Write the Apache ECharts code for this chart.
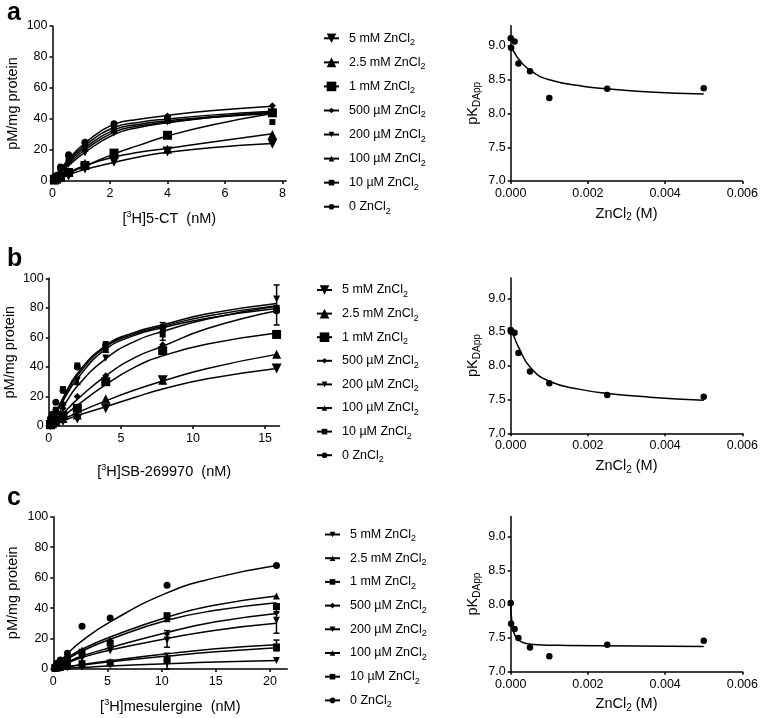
<!DOCTYPE html>
<html><head><meta charset="utf-8">
<script src="https://cdn.jsdelivr.net/npm/echarts@6/dist/echarts.min.js"></script>
<style>html,body{margin:0;padding:0;background:#fff}#c{width:761px;height:718px}</style>
</head><body><div id="c"></div>
<script>
// ---------------- DATA ----------------
const conditions = ['5 mM ZnCl2','2.5 mM ZnCl2','1 mM ZnCl2','500 µM ZnCl2','200 µM ZnCl2','100 µM ZnCl2','10 µM ZnCl2','0 ZnCl2'];

// panel a : [3H]5-CT saturation
const aConc = [0.07, 0.14, 0.28, 0.56, 1.13, 2.14, 4.0, 7.65];
const aBound = [
  [0.8, 1.5, 2.8, 3.5, 8, 12.5, 19, 24],
  [0.9, 1.6, 3, 6, 11.5, 17.5, 20.5, 30],
  [0.6, 1.2, 2.2, 5.5, 10, 18, 29.5, 44],
  [1.5, 3, 8, 16, 25, 36, 42, 48.5],
  [1.2, 2.5, 6, 11, 18, 31, 38, 44],
  [1.4, 3, 7, 13, 21, 33, 39, 45],
  [1.6, 3.2, 8, 14.5, 23, 35, 40, 38],
  [1.8, 3.5, 9, 17, 25, 37, 41, 44.5]
];
const aFitConc = [0, 0.28, 0.56, 1.13, 2.14, 3, 4, 5.5, 7.65];
const aFit = [
  [0, 2, 4, 7.5, 12, 15.5, 18.5, 21.5, 24.2],
  [0, 2.8, 5.5, 10, 15.5, 18.5, 21, 25, 30.5],
  [0, 2.5, 5, 9.5, 17.5, 23, 29, 36, 43.5],
  [0, 7.5, 14, 24.5, 36.5, 39.8, 42.3, 45.3, 48.3],
  [0, 5, 10, 18.5, 30, 34.5, 37.5, 41, 44.5],
  [0, 5.8, 11.2, 20, 31.5, 35.5, 38, 41, 43.5],
  [0, 6.4, 12.3, 21.5, 33, 36.5, 38.8, 41.5, 44],
  [0, 7, 13.3, 23, 34.5, 37.8, 40, 42.5, 45]
];

// panel b : [3H]SB-269970 saturation
const bConc = [0.12, 0.25, 0.49, 0.99, 1.98, 3.95, 7.9, 15.8];
const bBound = [
  [0.5, 1, 2, 3.5, 5, 12, 31, 39],
  [0.8, 1.5, 3, 5, 7.5, 18.5, 31, 48.5],
  [1, 2, 4, 7, 12, 30, 51, 62],
  [2, 3.5, 6, 12, 20, 34, 55, 80],
  [3, 5, 9, 13, 31, 46, 64, 86],
  [3.5, 6, 10, 16, 30, 52, 66, 79],
  [4, 7, 11, 25, 41, 53, 62, 80],
  [5, 8, 16, 24, 40, 55, 67, 78]
];
const bFitConc = [0, 0.49, 0.99, 1.98, 3.95, 6, 7.9, 11, 15.8];
const bFit = [
  [0, 1.5, 3.5, 7, 13, 19.5, 25, 32, 39],
  [0, 2, 4.5, 9, 17, 24.5, 30.5, 39, 48.5],
  [0, 3, 6.5, 14, 28, 40, 47.5, 55.5, 63],
  [0, 4, 8.5, 18, 34, 46.5, 54, 66, 78],
  [0, 6, 13, 27, 45.5, 57.5, 64, 72.5, 81],
  [0, 8, 17, 32, 52, 61.5, 66.5, 73, 79.5],
  [0, 8.5, 18, 34, 53.5, 62.5, 67.5, 74.5, 81.5],
  [0, 9, 19, 35.5, 54.5, 63.5, 68.5, 76, 83]
];
const bErrors = [[15.8, 68.4, 95.5], [7.9, 58, 70], [3.95, 50, 57]];

// panel c : [3H]mesulergine saturation
const cConc = [0.16, 0.33, 0.65, 1.3, 2.65, 5.25, 10.5, 20.6];
const cBound = [
  [0.2, 0.3, 0.5, 0.8, 1.5, 2.5, 3.5, 5.5],
  [0.3, 0.6, 1, 1.8, 3, 5, 8, 14],
  [0.5, 0.8, 1.2, 2, 3.5, 4, 6, 14.5],
  [0.8, 1.5, 2.5, 5, 8, 14, 23, 37],
  [0.6, 1.2, 2, 4, 7, 12, 19, 32],
  [1, 2, 3.5, 7, 12.5, 19, 33, 48],
  [1, 1.8, 3, 6, 11, 17, 35, 41],
  [1.5, 3.7, 5.9, 10.3, 28, 33.5, 55, 68]
];
const cFitConc = [0, 0.65, 1.3, 2.65, 5.25, 10.5, 15, 20.6];
const cFit = [
  [0, 0.3, 0.6, 1, 2, 3.5, 4.6, 5.5],
  [0, 0.7, 1.4, 2.6, 4.8, 8.5, 11.3, 14],
  [0, 0.8, 1.6, 3, 5.5, 10, 13.3, 16],
  [0, 2.3, 4.5, 8.5, 14, 24, 31, 36.5],
  [0, 2, 4, 7.5, 12.5, 20, 25.5, 30],
  [0, 3.8, 7.3, 13, 21, 34, 42, 48],
  [0, 3.3, 6.4, 11.8, 19.5, 32, 38.5, 43.5],
  [0, 5, 10, 18.5, 31, 50, 60, 68]
];
const cErrors = [[20.6, 23.5, 37.7], [20.6, 12, 19], [10.5, 14.3, 25.2], [10.5, 0, 10.3]];

// right panels : pKDApp vs ZnCl2 (M)
const zincConc = [0, 0.00001, 0.0001, 0.0002, 0.0005, 0.001, 0.0025, 0.005];
const aPK = [9.115, 8.975, 9.065, 8.74, 8.625, 8.23, 8.365, 8.375];
const bPK = [8.53, 8.505, 8.49, 8.19, 7.915, 7.74, 7.565, 7.54];
const cPK = [8.02, 7.71, 7.635, 7.5, 7.36, 7.23, 7.4, 7.46];
const aPKFitConc = [0, 0.0001, 0.0002, 0.0005, 0.001, 0.0019, 0.0025, 0.0036, 0.005];
const aPKFit = [8.99, 8.9, 8.81, 8.64, 8.5, 8.4, 8.365, 8.32, 8.29];
const bPKFitConc = [0, 0.0001, 0.0002, 0.0005, 0.001, 0.0018, 0.0025, 0.0036, 0.005];
const bPKFit = [8.55, 8.41, 8.28, 7.98, 7.77, 7.65, 7.59, 7.535, 7.49];
const cPKFitConc = [0, 0.000026, 0.00007, 0.00016, 0.00033, 0.0006, 0.00145, 0.005];
const cPKFit = [8.0, 7.77, 7.6, 7.5, 7.43, 7.405, 7.39, 7.375];

// tick labels
const aXTicks = [0, 2, 4, 6, 8];
const bXTicks = [0, 5, 10, 15];
const cXTicks = [0, 5, 10, 15, 20];
const pkTicks = [7.0, 7.5, 8.0, 8.5, 9.0];

// ---------------- STYLE / LAYOUT ----------------
const FONT = 'Liberation Sans, Arial, Helvetica, sans-serif';
const symbols = ['triangle','triangle','rect','diamond','triangle','triangle','rect','circle'];
const rotations = [180, 0, 0, 0, 180, 0, 0, 0];
const sizesAB = [10, 9, 9, 7, 7, 7, 6, 7];
const sizesC = [7, 7, 7, 6, 7, 7, 7, 7];

const panels = [
  { letter:'a', conc:aConc, bound:aBound, fitConc:aFitConc, fit:aFit, err:null, xTicks:aXTicks, xMax:8.13,
    xName:'[{sup|3}H]5-CT  (nM)', sizes:sizesAB, legendBig:true,
    pk:aPK, pkFitConc:aPKFitConc, pkFit:aPKFit,
    L:{left:52.5, top:26, width:233.7, height:155, xGap:29, yGap:30.5},
    R:{top:25.75}, letterTop:-4,
    leg:{left:323, top0:38.3, step:24.06} },
  { letter:'b', conc:bConc, bound:bBound, fitConc:bFitConc, fit:bFit, err:bErrors, xTicks:bXTicks, xMax:16,
    xName:'[{sup|3}H]SB-269970  (nM)', sizes:sizesAB, legendBig:true,
    pk:bPK, pkFitConc:bPKFitConc, pkFit:bPKFit,
    L:{left:48.3, top:278.3, width:231.2, height:147.7, xGap:37, yGap:26.3},
    R:{top:278}, letterTop:242,
    leg:{left:316, top0:290, step:23.6} },
  { letter:'c', conc:cConc, bound:cBound, fitConc:cFitConc, fit:cFit, err:cErrors, xTicks:cXTicks, xMax:21.6,
    xName:'[{sup|3}H]mesulergine  (nM)', sizes:sizesC, legendBig:false,
    pk:cPK, pkFitConc:cPKFitConc, pkFit:cPKFit,
    L:{left:53.3, top:516.7, width:234, height:152.3, xGap:28.7, yGap:31},
    R:{top:516.5}, letterTop:481,
    leg:{left:324, top0:534.5, step:23.7} }
];

const axisLineStyle = {color:'#000', width:1.5};
const labelStyle = {color:'#000', fontSize:12.5, fontFamily:FONT};
const richName = {
  sup:{fontSize:9, verticalAlign:'top', lineHeight:18, fontFamily:FONT, color:'#000'},
  s:{fontSize:10, verticalAlign:'bottom', lineHeight:18, fontFamily:FONT, color:'#000'}
};
const nameStyle = {color:'#000', fontSize:14.5, fontFamily:FONT, lineHeight:18, rich:richName};

const grid = [], xAxis = [], yAxis = [], series = [], legend = [], title = [];

panels.forEach((p, k) => {
  const gL = 2*k, gR = 2*k+1;
  grid.push({left:p.L.left, top:p.L.top, width:p.L.width, height:p.L.height});
  grid.push({left:510.7, top:p.R.top, width:232.6, height:155.25});
  title.push({text:p.letter, left:2, top:p.letterTop, textStyle:{fontSize:25, fontWeight:'bold', color:'#000', fontFamily:FONT}});

  xAxis.push({gridIndex:gL, type:'value', min:0, max:p.xMax,
    axisLine:{lineStyle:axisLineStyle, onZero:false},
    axisTick:{customValues:p.xTicks, length:3, lineStyle:axisLineStyle},
    axisLabel:{customValues:p.xTicks, margin:6, ...labelStyle},
    splitLine:{show:false},
    name:p.xName, nameLocation:'middle', nameGap:p.L.xGap, nameTextStyle:nameStyle});
  yAxis.push({gridIndex:gL, type:'value', min:0, max:100, interval:20,
    axisLine:{show:true, lineStyle:axisLineStyle, onZero:false},
    axisTick:{show:true, length:3, lineStyle:axisLineStyle},
    axisLabel:{margin:5, ...labelStyle},
    splitLine:{show:false},
    name:'pM/mg protein', nameLocation:'middle', nameGap:p.L.yGap, nameTextStyle:nameStyle});

  xAxis.push({gridIndex:gR, type:'value', min:0, max:0.006, interval:0.002,
    axisLine:{lineStyle:axisLineStyle, onZero:false},
    axisTick:{length:3, lineStyle:axisLineStyle},
    axisLabel:{margin:6, formatter:v => v.toFixed(3), ...labelStyle},
    splitLine:{show:false},
    name:'ZnCl{s|2} (M)', nameLocation:'middle', nameGap:23.5, nameTextStyle:nameStyle});
  yAxis.push({gridIndex:gR, type:'value', min:7, max:9.3,
    axisLine:{show:true, lineStyle:axisLineStyle, onZero:false},
    axisTick:{show:true, customValues:pkTicks, length:3, lineStyle:axisLineStyle},
    axisLabel:{customValues:pkTicks, margin:5, formatter:v => v.toFixed(1), ...labelStyle},
    splitLine:{show:false},
    name:'pK{s|DApp}', nameLocation:'middle', nameGap:28.7, nameTextStyle:nameStyle});

  conditions.forEach((name, i) => {
    series.push({type:'line', name, xAxisIndex:gL, yAxisIndex:gL,
      data:p.fitConc.map((x, j) => [x, p.fit[i][j]]),
      smooth:0.5, showSymbol:false, symbol:symbols[i], symbolRotate:rotations[i],
      lineStyle:{color:'#000', width:1.5}, itemStyle:{color:'#000'}, silent:true, z:2});
    series.push({type:'scatter', name, xAxisIndex:gL, yAxisIndex:gL,
      data:p.conc.map((x, j) => [x, p.bound[i][j]]),
      symbol:symbols[i], symbolRotate:rotations[i], symbolSize:p.sizes[i],
      itemStyle:{color:'#000', opacity:1}, silent:true, z:3});

    const big = p.legendBig && i < 3;
    legend.push({data:[name], left:p.leg.left, top:p.leg.top0 + i*p.leg.step - 9,
      orient:'vertical', padding:0, itemGap:0, itemWidth:15, itemHeight: big ? 12 : 7,
      selectedMode:false,
      formatter: n => '{g| }' + n.replace('ZnCl2', 'ZnCl{s|2}'),
      textStyle:{color:'#000', fontSize:12.5, fontFamily:FONT, lineHeight:18,
        rich:{g:{width:5, fontSize:12.5, lineHeight:18}, s:{fontSize:9, verticalAlign:'bottom', lineHeight:18, fontFamily:FONT, color:'#000'}}}});
  });

  if (p.err) {
    series.push({type:'custom', xAxisIndex:gL, yAxisIndex:gL, data:p.err, silent:true, z:4,
      encode:{x:0, y:[1, 2]},
      renderItem:(params, api) => {
        const x = api.value(0);
        const top = api.coord([x, api.value(2)]);
        const bot = api.coord([x, api.value(1)]);
        const st = {stroke:'#000', lineWidth:1.5};
        return {type:'group', children:[
          {type:'line', shape:{x1:top[0], y1:top[1], x2:bot[0], y2:bot[1]}, style:st},
          {type:'line', shape:{x1:top[0]-3, y1:top[1], x2:top[0]+3, y2:top[1]}, style:st},
          {type:'line', shape:{x1:bot[0]-3, y1:bot[1], x2:bot[0]+3, y2:bot[1]}, style:st}
        ]};
      }});
  }

  series.push({type:'line', xAxisIndex:gR, yAxisIndex:gR,
    data:p.pkFitConc.map((x, j) => [x, p.pkFit[j]]),
    smooth:0.5, showSymbol:false,
    lineStyle:{color:'#000', width:1.5}, silent:true, z:2});
  series.push({type:'scatter', xAxisIndex:gR, yAxisIndex:gR,
    data:zincConc.map((x, j) => [x, p.pk[j]]),
    symbol:'circle', symbolSize:6.5, itemStyle:{color:'#000', opacity:1}, silent:true, z:3});
});

const chart = echarts.init(document.getElementById('c'), null, {renderer:'canvas'});
chart.setOption({animation:false, backgroundColor:'#fff', title, grid, xAxis, yAxis, legend, series});
</script></body></html>
